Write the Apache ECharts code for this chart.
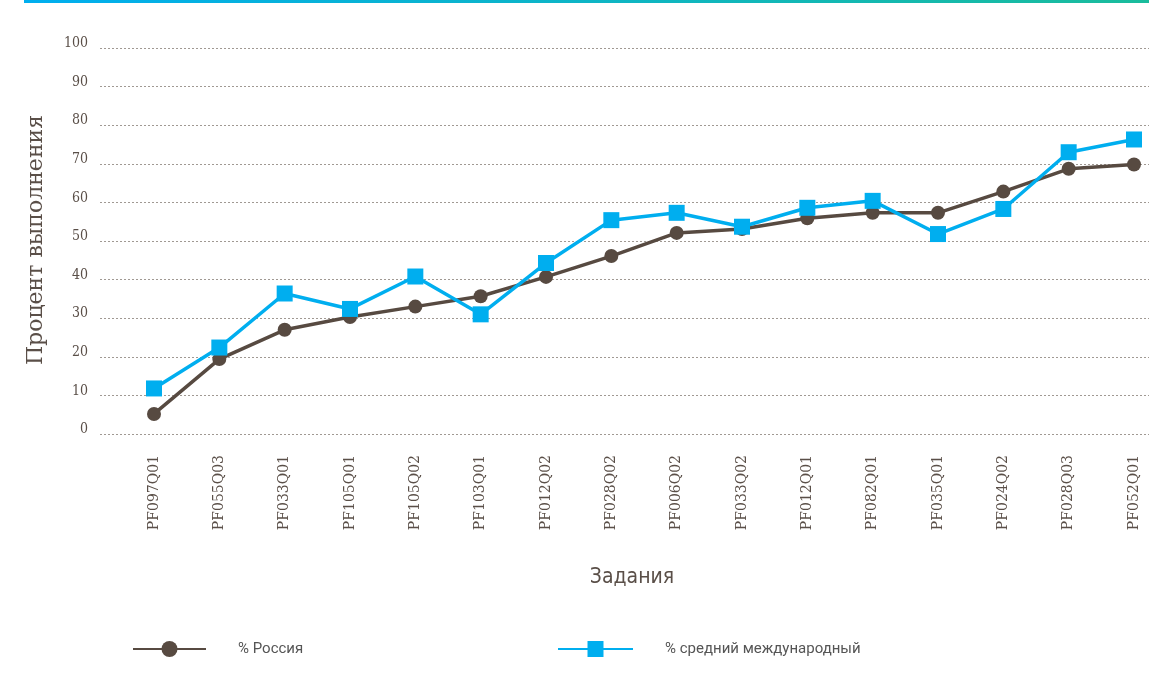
<!DOCTYPE html>
<html>
<head>
<meta charset="utf-8">
<script src="https://cdn.jsdelivr.net/npm/echarts@6/dist/echarts.min.js"></script>
<style>
html,body{margin:0;padding:0;background:#fff;}
#c{width:1149px;height:683px;}
</style>
</head>
<body>
<div id="c"></div>
<script>
const categories = ['PF097Q01','PF055Q03','PF033Q01','PF105Q01','PF105Q02','PF103Q01','PF012Q02','PF028Q02','PF006Q02','PF033Q02','PF012Q01','PF082Q01','PF035Q01','PF024Q02','PF028Q03','PF052Q01'];
const russia = [5.2, 19.4, 27.0, 30.3, 33.0, 35.7, 40.7, 46.1, 52.1, 53.1, 55.9, 57.3, 57.3, 62.8, 68.7, 69.8];
const international = [11.8, 22.4, 36.4, 32.4, 40.8, 31.0, 44.3, 55.4, 57.3, 53.7, 58.6, 60.4, 51.8, 58.3, 73.0, 76.3];
const seriesNames = ['% Россия', '% средний международный'];
const yTicks = [0, 10, 20, 30, 40, 50, 60, 70, 80, 90, 100];

const brown = '#574a41';
const blue = '#00aeef';
const textColor = '#5a4f48';

const chart = echarts.init(document.getElementById('c'));
chart.setOption({
  animation: false,
  backgroundColor: '#fff',
  grid: [
    {left: 100, right: 0, top: 48, bottom: 249},
    {left: 154, right: 15, top: 48, bottom: 249}
  ],
  xAxis: [
    {gridIndex: 0, type: 'value', min: 0, max: 1, show: false},
    {gridIndex: 1, type: 'category', data: categories, boundaryGap: false,
     axisLine: {show: false}, axisTick: {show: false}, splitLine: {show: false},
     axisLabel: {rotate: 90, margin: 21, color: textColor, fontSize: 14,
       fontFamily: "'DejaVu Serif', serif", interval: 0}}
  ],
  yAxis: [
    {gridIndex: 0, type: 'value', min: yTicks[0], max: yTicks[yTicks.length-1], interval: 10,
     axisLine: {show: false}, axisTick: {show: false},
     splitLine: {show: true, lineStyle: {type: [2, 2], color: '#a09993', width: 1}},
     axisLabel: {margin: 12, color: textColor, fontSize: 14, verticalAlign: 'bottom', lineHeight: 9,
       fontFamily: "'DejaVu Serif Condensed', 'DejaVu Serif', serif"}},
    {gridIndex: 1, type: 'value', min: 0, max: 100, show: false}
  ],
  legend: [
    {data: [seriesNames[0]], left: 132, top: 641, padding: 0, itemWidth: 73, itemHeight: 20,
     textStyle: {color: '#555', fontSize: 15, fontFamily: 'Roboto', padding: [0,0,0,27]}},
    {data: [seriesNames[1]], left: 557, top: 641, padding: 0, itemWidth: 75, itemHeight: 20,
     textStyle: {color: '#555', fontSize: 15, fontFamily: 'Roboto', padding: [0,0,0,27]}}
  ],
  graphic: [
    {type: 'rect', left: 24, top: 0, shape: {width: 1125, height: 3},
     style: {fill: new echarts.graphic.LinearGradient(0, 0, 1, 0, [
       {offset: 0, color: '#00aeef'}, {offset: 1, color: '#1abc9c'}])}},
    {type: 'text', x: 36, y: 240, rotation: Math.PI / 2,
     style: {text: 'Процент выполнения', fill: textColor, fontSize: 22,
       fontFamily: "'DejaVu Serif', serif", align: 'center', verticalAlign: 'middle'}},
    {type: 'text', x: 632, y: 578,
     style: {text: 'Задания', fill: textColor, fontSize: 21,
       fontFamily: "'DejaVu Sans Condensed', 'DejaVu Sans', sans-serif", align: 'center', verticalAlign: 'middle'}}
  ],
  series: [
    {name: seriesNames[0], type: 'line', xAxisIndex: 1, yAxisIndex: 1, data: russia,
     symbol: 'circle', symbolSize: 14, z: 3,
     lineStyle: {color: brown, width: 3.5}, itemStyle: {color: brown}},
    {name: seriesNames[1], type: 'line', xAxisIndex: 1, yAxisIndex: 1, data: international,
     symbol: 'rect', symbolSize: 16, z: 4,
     lineStyle: {color: blue, width: 3.5}, itemStyle: {color: blue}}
  ]
});
</script>
</body>
</html>
